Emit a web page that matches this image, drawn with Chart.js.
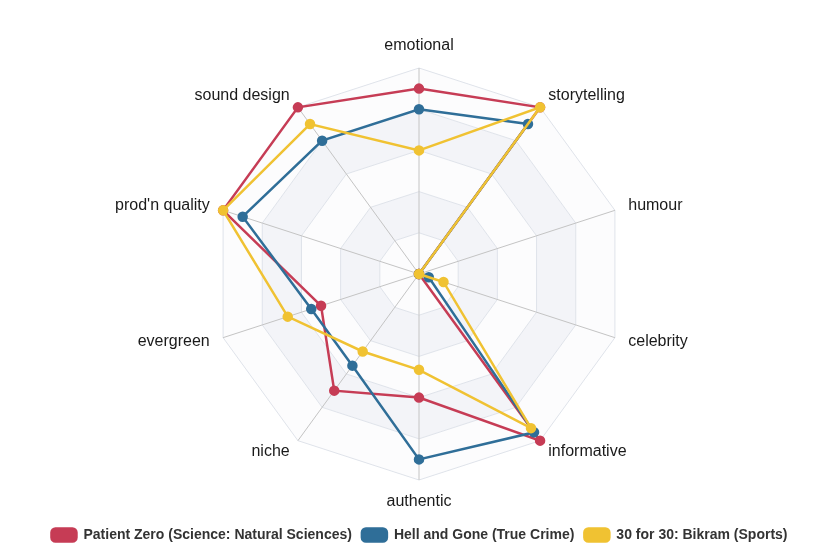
<!DOCTYPE html>
<html>
<head>
<meta charset="utf-8">
<script src="https://cdn.jsdelivr.net/npm/chart.js@4/dist/chart.umd.min.js"></script>
<style>
  html, body { margin: 0; padding: 0; background: #fff; }
  #wrap { width: 839px; height: 549px; }
</style>
</head>
<body>
<div id="wrap"><canvas id="radarChart"></canvas></div>
<script>
// categories (clockwise from top)
const categories = ["emotional", "storytelling", "humour", "celebrity", "informative",
                    "authentic", "niche", "evergreen", "prod'n quality", "sound design"];

// series values (0-10)
const patientZero = [9, 10, 0, 0, 10, 6, 7, 5, 10, 10];
const hellAndGone = [8, 9, 0, 0.5, 9.5, 9, 5.5, 5.5, 9, 8];
const bikram      = [6, 10, 0, 1.25, 9.25, 4.65, 4.65, 6.7, 10, 9];

const seriesNames = ["Patient Zero (Science: Natural Sciences)",
                     "Hell and Gone (True Crime)",
                     "30 for 30: Bikram (Sports)"];

const RED = "#c63c55";
const BLUE = "#2f6e98";
const YELLOW = "#f0c232";
const FONT = "'Liberation Sans', Arial, sans-serif";

// alternating bands behind the grid
const bandPlugin = {
  id: "bands",
  beforeDraw(chart) {
    const scale = chart.scales.r;
    const ctx = chart.ctx;
    const n = categories.length;
    const ticks = scale.ticks.map(t => t.value);
    const colors = ["#fcfcfd", "#f3f4f8"];
    ctx.save();
    for (let k = 1; k < ticks.length; k++) {
      ctx.beginPath();
      for (const v of [ticks[k], ticks[k - 1]]) {
        for (let i = 0; i < n; i++) {
          const p = scale.getPointPositionForValue(i, v);
          if (i === 0) ctx.moveTo(p.x, p.y); else ctx.lineTo(p.x, p.y);
        }
        ctx.closePath();
      }
      ctx.fillStyle = colors[(k - 1) % 2];
      ctx.fill("evenodd");
    }
    ctx.restore();
  }
};

// category labels, centred on their spoke just outside the outer ring
const labelPlugin = {
  id: "spokeLabels",
  afterDraw(chart) {
    const scale = chart.scales.r;
    const ctx = chart.ctx;
    ctx.save();
    ctx.font = "16px " + FONT;
    ctx.fillStyle = "#1a1a1a";
    categories.forEach((name, i) => {
      const p = scale.getPointPosition(i, scale.drawingArea + 14);
      const dx = p.x - scale.xCenter;
      const dy = p.y - scale.yCenter;
      if (Math.abs(dx) < 1) {
        ctx.textAlign = "center";
        ctx.textBaseline = dy < 0 ? "bottom" : "top";
      } else {
        ctx.textAlign = dx > 0 ? "left" : "right";
        ctx.textBaseline = "middle";
      }
      ctx.fillText(name, p.x, p.y);
    });
    ctx.restore();
  }
};

function makeSet(label, data, color, order) {
  return {
    label: label,
    data: data,
    order: order,
    borderColor: color,
    backgroundColor: color,
    pointBackgroundColor: color,
    pointBorderColor: color,
    borderWidth: 2.5,
    pointRadius: 4,
    fill: false,
    tension: 0
  };
}

new Chart(document.getElementById("radarChart"), {
  type: "radar",
  data: {
    labels: categories,
    datasets: [
      makeSet(seriesNames[0], patientZero, RED, 2),
      makeSet(seriesNames[1], hellAndGone, BLUE, 1),
      makeSet(seriesNames[2], bikram, YELLOW, 0)
    ]
  },
  options: {
    responsive: true,
    maintainAspectRatio: false,
    animation: false,
    layout: { padding: { top: 68, bottom: -3 } },
    scales: {
      r: {
        min: 0,
        max: 10,
        ticks: { stepSize: 2, display: false },
        grid: { color: "#dfe3ea", lineWidth: 1 },
        angleLines: { color: "#c4c4c4", lineWidth: 1 },
        pointLabels: { display: false }
      }
    },
    plugins: {
      tooltip: { enabled: false },
      legend: {
        position: "bottom",
        // empty title only reserves the gap between the radar and the legend row
        title: { display: true, text: "", padding: { top: 28, bottom: 0 }, font: { size: 10, lineHeight: 1 } },
        labels: {
          sort: (a, b) => a.datasetIndex - b.datasetIndex,
          boxWidth: 25,
          boxHeight: 13,
          useBorderRadius: true,
          borderRadius: 4,
          padding: 10,
          color: "#333",
          font: { family: FONT, size: 14, weight: "bold" }
        }
      }
    }
  },
  plugins: [bandPlugin, labelPlugin]
});
</script>
</body>
</html>
